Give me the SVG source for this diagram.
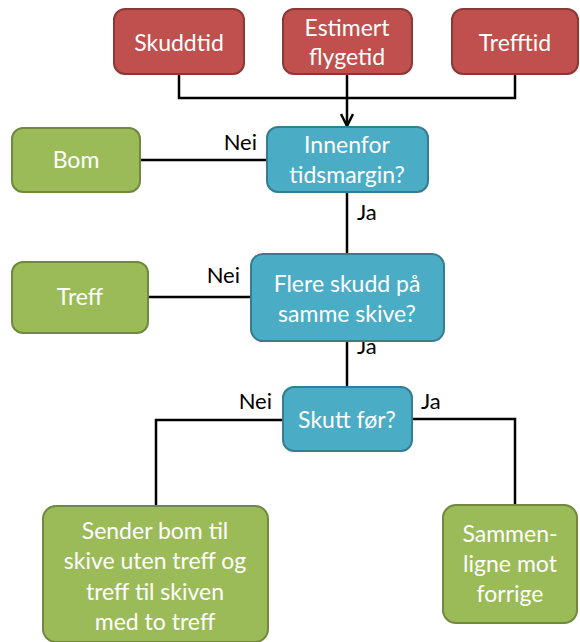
<svg xmlns="http://www.w3.org/2000/svg" width="580" height="642" viewBox="0 0 580 642">
<defs>
<style>
.red{fill:#C0504D;stroke:#8C3836;stroke-width:2}
.green{fill:#9BBB59;stroke:#71893F;stroke-width:2}
.blue{fill:#4BACC6;stroke:#357D91;stroke-width:2}
.t{font-family:Lato,"Open Sans","Liberation Sans",sans-serif;font-size:23px;fill:#FFFFFF;text-anchor:middle}
.lbl{font-family:Lato,"Open Sans","Liberation Sans",sans-serif;font-size:22px;fill:#000000}
.c{fill:none;stroke:#000;stroke-width:2.5}
</style>
<marker id="arr" markerUnits="userSpaceOnUse" markerWidth="16" markerHeight="14" refX="13" refY="7" orient="auto">
<path d="M1,1 L13,7 L1,13" fill="none" stroke="#000" stroke-width="2.5"/>
</marker>
</defs>
<rect width="580" height="642" fill="#FFFFFF"/>
<g id="connectors">
<polyline class="c" points="179,74 179,98 515,98 515,74"/>
<line class="c" x1="347" y1="74" x2="347" y2="126" marker-end="url(#arr)"/>
<line class="c" x1="140" y1="160" x2="267" y2="160"/>
<line class="c" x1="347" y1="192" x2="347" y2="254"/>
<line class="c" x1="148" y1="297" x2="251" y2="297"/>
<line class="c" x1="347" y1="341" x2="347" y2="387"/>
<polyline class="c" points="283,420 156,420 156,506"/>
<polyline class="c" points="412,419 515,419 515,505"/>
<text class="lbl" x="257" y="150" text-anchor="end">Nei</text>
<text class="lbl" x="357" y="220">Ja</text>
<text class="lbl" x="240" y="283" text-anchor="end">Nei</text>
<text class="lbl" x="357" y="354">Ja</text>
<text class="lbl" x="272" y="409" text-anchor="end">Nei</text>
<text class="lbl" x="421" y="409">Ja</text>
</g>
<g id="skuddtid"><rect class="red" x="114" y="9" width="130" height="65" rx="11"/><text class="t" x="179" y="51">Skuddtid</text></g>
<g id="estimert"><rect class="red" x="283" y="9" width="129" height="65" rx="11"/><text class="t" x="347" y="36">Estimert</text><text class="t" x="347" y="65">flygetid</text></g>
<g id="trefftid"><rect class="red" x="452" y="9" width="126" height="65" rx="11"/><text class="t" x="515" y="51">Trefftid</text></g>
<g id="bom"><rect class="green" x="12" y="128" width="128" height="64" rx="11"/><text class="t" x="76" y="168">Bom</text></g>
<g id="innenfor"><rect class="blue" x="267" y="127" width="161" height="65" rx="11"/><text class="t" x="347" y="153">Innenfor</text><text class="t" x="347" y="183">tidsmargin?</text></g>
<g id="treff"><rect class="green" x="12" y="262" width="136" height="71" rx="11"/><text class="t" x="80" y="305">Treff</text></g>
<g id="flere"><rect class="blue" x="251" y="254" width="193" height="87" rx="12"/><text class="t" x="347" y="292">Flere skudd på</text><text class="t" x="347" y="322">samme skive?</text></g>
<g id="skutt"><rect class="blue" x="283" y="387" width="129" height="64" rx="11"/><text class="t" x="347" y="428">Skutt før?</text></g>
<g id="sender"><rect class="green" x="43" y="506" width="225" height="136" rx="13"/><text class="t" x="155" y="539">Sender bom til</text><text class="t" x="155" y="569">skive uten treff og</text><text class="t" x="155" y="600">treff til skiven</text><text class="t" x="155" y="630">med to treff</text></g>
<g id="sammen"><rect class="green" x="443" y="505" width="134" height="118" rx="13"/><text class="t" x="510" y="542">Sammen-</text><text class="t" x="510" y="572">ligne mot</text><text class="t" x="510" y="602">forrige</text></g>
</svg>
